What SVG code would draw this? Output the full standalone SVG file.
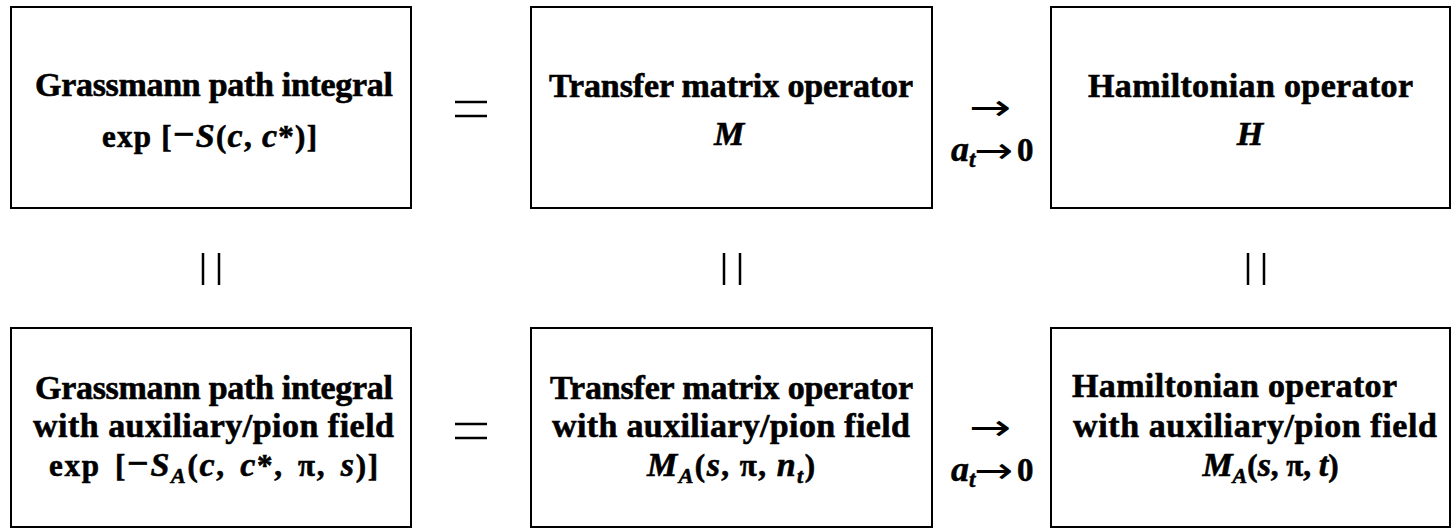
<svg xmlns="http://www.w3.org/2000/svg" width="1451" height="528" viewBox="0 0 1451 528">
<style>
.box{fill:#fff;stroke:#000;stroke-width:2}
.t{font-family:"Liberation Serif","Times New Roman",serif;font-weight:bold;font-size:34px;fill:#000;stroke:#000;stroke-width:0.6;text-anchor:middle}
.m{font-family:"Liberation Serif","Times New Roman",serif;font-weight:bold;font-size:31px;fill:#000;stroke:#000;stroke-width:0.6;text-anchor:middle}
.l{font-family:"Liberation Serif","Times New Roman",serif;font-weight:bold;font-size:33px;fill:#000;stroke:#000;stroke-width:0.5}
.ar{font-family:"DejaVu Sans",sans-serif;font-size:36px;fill:#000}
.i{font-style:italic;font-size:34px}
.s{font-style:italic;font-size:22px}
.mi{font-size:38px}
.rel{stroke:#000;stroke-width:2.5;fill:none}
</style>
<rect width="1451" height="528" fill="#fff"/>
<g id="n1">
<rect class="box" x="11" y="7" width="400" height="201"/>
<text class="t" x="214" y="96" textLength="358">Grassmann path integral</text>
<text class="m" x="209.5" y="147" textLength="215">exp [<tspan class="mi">−</tspan><tspan class="i">S</tspan>(<tspan class="i">c</tspan>, <tspan class="i">c</tspan>*)]</text>
</g>
<g id="n2">
<rect class="box" x="531" y="7" width="401" height="201"/>
<text class="t" x="731" y="97" textLength="364">Transfer matrix operator</text>
<text class="m" x="729" y="145"><tspan class="i">M</tspan></text>
</g>
<g id="n3">
<rect class="box" x="1051" y="7" width="399" height="201"/>
<text class="t" x="1250.5" y="97" textLength="325">Hamiltonian operator</text>
<text class="m" x="1250" y="145"><tspan class="i">H</tspan></text>
</g>
<g id="n4">
<rect class="box" x="11" y="328" width="400" height="199"/>
<text class="t" x="214" y="399" textLength="358">Grassmann path integral</text>
<text class="t" x="213.5" y="437" textLength="361">with auxiliary/pion field</text>
<text class="m" x="213.5" y="476" textLength="329" word-spacing="5">exp [<tspan class="mi">−</tspan><tspan class="i">S</tspan><tspan class="s" dy="7">A</tspan><tspan dy="-7">(</tspan><tspan class="i">c</tspan>, <tspan class="i">c</tspan>*, π, <tspan class="i">s</tspan>)]</text>
</g>
<g id="n5">
<rect class="box" x="531" y="328" width="401" height="199"/>
<text class="t" x="731.5" y="399" textLength="363">Transfer matrix operator</text>
<text class="t" x="731" y="437" textLength="358">with auxiliary/pion field</text>
<text class="m" x="731" y="476" textLength="168"><tspan class="i">M</tspan><tspan class="s" dy="7">A</tspan><tspan dy="-7">(</tspan><tspan class="i">s</tspan>, π, <tspan class="i">n</tspan><tspan class="s" dy="7">t</tspan><tspan dy="-7">)</tspan></text>
</g>
<g id="n6">
<rect class="box" x="1051" y="328" width="399" height="199"/>
<text class="t" x="1234.5" y="397" textLength="325">Hamiltonian operator</text>
<text class="t" x="1255" y="437" textLength="364">with auxiliary/pion field</text>
<text class="m" x="1270.5" y="476"><tspan class="i">M</tspan><tspan class="s" dy="7">A</tspan><tspan dy="-7">(</tspan><tspan class="i">s</tspan>, π, <tspan class="i">t</tspan>)</text>
</g>
<g id="lim1">
<text class="ar" transform="translate(969 120) scale(1.4 1)">→</text>
<text class="l" x="951" y="161"><tspan font-style="italic" font-size="36">a</tspan><tspan font-style="italic" font-size="23" dy="6">t</tspan></text>
<text class="ar" transform="translate(974 163) scale(1.3 1)">→</text>
<text class="l" x="1017" y="161">0</text>
</g>
<g id="lim2">
<text class="ar" transform="translate(969 440) scale(1.4 1)">→</text>
<text class="l" x="951" y="481"><tspan font-style="italic" font-size="36">a</tspan><tspan font-style="italic" font-size="23" dy="6">t</tspan></text>
<text class="ar" transform="translate(974 483) scale(1.3 1)">→</text>
<text class="l" x="1017" y="481">0</text>
</g>
<g id="connectors">
<path class="rel" d="M455 102H487M455 116H487"/>
<path class="rel" d="M455 424H487M455 438H487"/>
<path class="rel" d="M203 253V285M219 253V285"/>
<path class="rel" d="M724 253V285M740 253V285"/>
<path class="rel" d="M1248 253V285M1264 253V285"/>
</g>
</svg>
